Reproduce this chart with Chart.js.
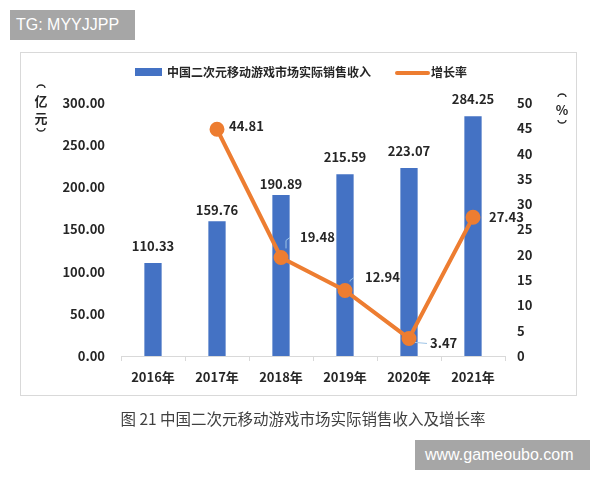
<!DOCTYPE html>
<html>
<head>
<meta charset="utf-8">
<script src="https://cdn.jsdelivr.net/npm/chart.js@4/dist/chart.umd.min.js"></script>
<style>
  html, body { margin: 0; padding: 0; background: #fff; }
  #wrap { position: relative; width: 600px; height: 480px; overflow: hidden; }
  canvas { position: absolute; left: 0; top: 0; }
  .wm { position: absolute; background: #a6a6a6; color: #fff; font-family: "Liberation Sans", Arial, sans-serif; font-size: 16px; line-height: 30px; padding: 0 6px; box-sizing: border-box; }
  #caption { position: absolute; left: 0; width: 606px; top: 408px; text-align: center; font-family: "Noto Sans CJK SC", sans-serif; font-size: 15.5px; color: #404040; line-height: 20px; }
</style>
</head>
<body>
<div id="wrap">
  <canvas id="c" width="600" height="480"></canvas>
  <div class="wm" style="left:10px;top:10px;width:125px;height:30px;">TG: MYYJJPP</div>
  <div class="wm" style="left:415px;top:440px;width:175px;height:30px;padding-left:10px;">www.gameoubo.com</div>
  <div id="caption">图 21 中国二次元移动游戏市场实际销售收入及增长率</div>
</div>
<script>
const categories = ["2016年", "2017年", "2018年", "2019年", "2020年", "2021年"];
const revenue = [110.33, 159.76, 190.89, 215.59, 223.07, 284.25];
const growth = [null, 44.81, 19.48, 12.94, 3.47, 27.43];
const revenueLabel = "中国二次元移动游戏市场实际销售收入";
const growthLabel = "增长率";
const leftTitle = ["亿", "元"];
const rightTitle = ["%"];
const leftTicks = [0, 50, 100, 150, 200, 250, 300];
const rightTicks = [0, 5, 10, 15, 20, 25, 30, 35, 40, 45, 50];

const FONT = '"Noto Sans CJK SC", "Open Sans", sans-serif';
const BLUE = '#4472C4';
const ORANGE = '#ED7D31';
const TXT = '#262626';

// label placement tweaks (presentation only)
const barLabelRise = [17, 11, 11, 17, 17, 17];
const lineLabelShift = [null, [12, -3], [19, -20], [20, -13], [21, 5], [16, 0]];

function vTitle(ctx, x, yTop, chars) {
  // stacked vertical title with vertical-form parentheses drawn as arcs
  ctx.save();
  ctx.strokeStyle = TXT;
  ctx.lineWidth = 1.3;
  ctx.beginPath();
  ctx.ellipse(x, yTop + 2, 4, 3, 0, Math.PI, 2 * Math.PI);
  ctx.stroke();
  ctx.fillStyle = TXT;
  ctx.font = 'bold 13px ' + FONT;
  ctx.textAlign = 'center';
  ctx.textBaseline = 'middle';
  let y = yTop + 15;
  chars.forEach((ch, i) => { if (i) y += 17; ctx.fillText(ch, x, y); });
  ctx.beginPath();
  ctx.ellipse(x, y + 10, 4, 3, 0, 0, Math.PI);
  ctx.stroke();
  ctx.restore();
}

const decor = {
  id: 'decor',
  beforeDraw(chart) {
    const ctx = chart.ctx;
    ctx.save();
    ctx.strokeStyle = '#d9d9d9';
    ctx.lineWidth = 1;
    ctx.strokeRect(20.5, 52.5, 556, 343);
    ctx.restore();
  },
  afterDatasetsDraw(chart) {
    const ctx = chart.ctx;
    ctx.save();
    ctx.fillStyle = TXT;
    ctx.font = 'bold 13px ' + FONT;
    ctx.textBaseline = 'middle';
    const barMeta = chart.getDatasetMeta(0);
    ctx.textAlign = 'center';
    barMeta.data.forEach((el, i) => {
      ctx.fillText(revenue[i].toFixed(2), el.x, el.y - barLabelRise[i]);
    });
    const lineMeta = chart.getDatasetMeta(1);
    ctx.textAlign = 'left';
    lineMeta.data.forEach((el, i) => {
      if (growth[i] == null) return;
      const s = lineLabelShift[i];
      ctx.strokeStyle = '#9dc3e6';
      ctx.lineWidth = 1;
      if (s[1] < -8) {
        ctx.beginPath();
        ctx.moveTo(el.x + 5, el.y - 9);
        ctx.lineTo(el.x + 5, el.y + s[1] + 3);
        ctx.lineTo(el.x + 9, el.y + s[1]);
        ctx.stroke();
      } else if (s[1] > 2) {
        ctx.beginPath();
        ctx.moveTo(el.x + 6, el.y + 4);
        ctx.lineTo(el.x + s[0] - 3, el.y + s[1]);
        ctx.stroke();
      }
      ctx.fillText(growth[i].toFixed(2), el.x + s[0], el.y + s[1]);
    });
    ctx.restore();
  },
  afterDraw(chart) {
    const ctx = chart.ctx;
    ctx.save();
    ctx.fillStyle = BLUE;
    ctx.fillRect(135, 68, 27, 8);
    ctx.fillStyle = TXT;
    ctx.font = 'bold 12px ' + FONT;
    ctx.textBaseline = 'middle';
    ctx.textAlign = 'left';
    ctx.fillText(revenueLabel, 167, 72);
    ctx.strokeStyle = ORANGE;
    ctx.lineWidth = 4;
    ctx.lineCap = 'round';
    ctx.beginPath();
    ctx.moveTo(397, 73);
    ctx.lineTo(428, 73);
    ctx.stroke();
    ctx.fillText(growthLabel, 431, 72);
    ctx.restore();
    vTitle(ctx, 41, 86, leftTitle);
    vTitle(ctx, 562, 95, rightTitle);
  }
};

new Chart(document.getElementById('c'), {
  type: 'bar',
  data: {
    labels: categories,
    datasets: [
      {
        type: 'bar',
        label: revenueLabel,
        data: revenue,
        backgroundColor: BLUE,
        yAxisID: 'y',
        barPercentage: 0.27,
        categoryPercentage: 1.0,
        order: 2
      },
      {
        type: 'line',
        label: growthLabel,
        data: growth,
        borderColor: ORANGE,
        backgroundColor: ORANGE,
        borderWidth: 4,
        pointRadius: 5.5,
        pointBackgroundColor: ORANGE,
        pointBorderColor: ORANGE,
        yAxisID: 'y1',
        tension: 0,
        order: 1
      }
    ]
  },
  options: {
    responsive: false,
    animation: false,
    devicePixelRatio: 1,
    layout: { padding: { top: 103, left: 0, right: 0, bottom: 0 } },
    plugins: { legend: { display: false }, tooltip: { enabled: false } },
    scales: {
      x: {
        grid: { display: true, drawOnChartArea: false, offset: true, tickLength: 5, color: '#d9d9d9' },
        border: { display: true, color: '#d9d9d9', width: 1 },
        ticks: { color: TXT, font: { family: FONT, size: 13, weight: 'bold' }, padding: 8, maxRotation: 0 },
        afterFit(s) { s.height = 124; }
      },
      y: {
        position: 'left',
        min: 0, max: 300,
        afterBuildTicks(s) { s.ticks = leftTicks.map(v => ({ value: v })); },
        grid: { display: false, drawTicks: false },
        border: { display: false },
        ticks: { color: TXT, font: { family: FONT, size: 13, weight: 'bold' }, padding: 16, callback: v => Number(v).toFixed(2) },
        afterFit(s) { s.width = 121; }
      },
      y1: {
        position: 'right',
        min: 0, max: 50,
        afterBuildTicks(s) { s.ticks = rightTicks.map(v => ({ value: v })); },
        grid: { display: false, drawTicks: false },
        border: { display: false },
        ticks: { color: TXT, font: { family: FONT, size: 13, weight: 'bold' }, padding: 12 },
        afterFit(s) { s.width = 95; }
      }
    }
  },
  plugins: [decor]
});
</script>
</body>
</html>
